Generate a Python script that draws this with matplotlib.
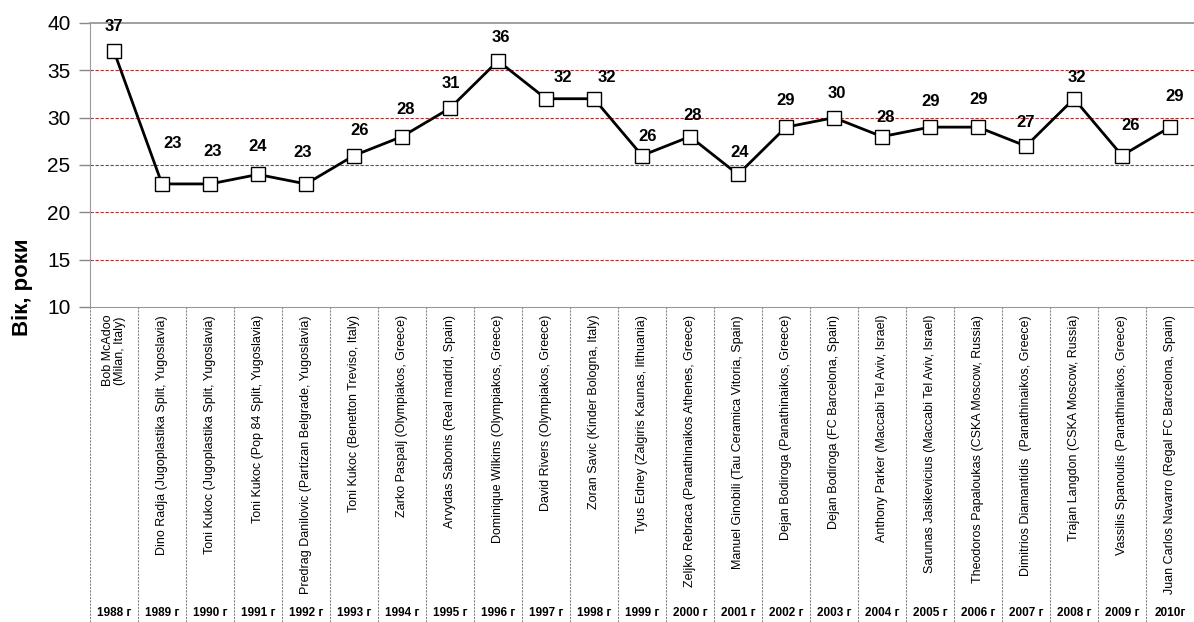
import matplotlib
matplotlib.use("Agg")
import matplotlib.pyplot as plt

plt.rcParams['font.family'] = ['Liberation Sans', 'DejaVu Sans']

years = ["1988 г", "1989 г", "1990 г", "1991 г", "1992 г", "1993 г", "1994 г",
         "1995 г", "1996 г", "1997 г", "1998 г", "1999 г", "2000 г", "2001 г",
         "2002 г", "2003 г", "2004 г", "2005 г", "2006 г", "2007 г", "2008 г",
         "2009 г", "2010г"]
players = [
    "Bob McAdoo\n(Milan, Italy)",
    "Dino Radja (Jugoplastika Split, Yugoslavia)",
    "Toni Kukoc (Jugoplastika Split, Yugoslavia)",
    "Toni Kukoc (Pop 84 Split, Yugoslavia)",
    "Predrag Danilovic (Partizan Belgrade, Yugoslavia)",
    "Toni Kukoc (Benetton Treviso, Italy)",
    "Zarko Paspalj (Olympiakos, Greece)",
    "Arvydas Sabonis (Real madrid, Spain)",
    "Dominique Wilkins (Olympiakos, Greece)",
    "David Rivers (Olympiakos, Greece)",
    "Zoran Savic (Kinder Bologna, Italy)",
    "Tyus Edney (Zalgiris Kaunas, lithuania)",
    "Zeljko Rebraca (Panathinaikos Athenes, Greece)",
    "Manuel Ginobili (Tau Ceramica Vitoria, Spain)",
    "Dejan Bodiroga (Panathinaikos, Greece)",
    "Dejan Bodiroga (FC Barcelona, Spain)",
    "Anthony Parker (Maccabi Tel Aviv, Israel)",
    "Sarunas Jasikevicius (Maccabi Tel Aviv, Israel)",
    "Theodoros Papaloukas (CSKA Moscow, Russia)",
    "Dimitrios Diamantidis  (Panathinaikos, Greece)",
    "Trajan Langdon (CSKA Moscow, Russia)",
    "Vassilis Spanoulis (Panathinaikos, Greece)",
    "Juan Carlos Navarro (Regal FC Barcelona, Spain)",
]
ages = [37, 23, 23, 24, 23, 26, 28, 31, 36, 32, 32, 26, 28, 24, 29, 30, 28,
        29, 29, 27, 32, 26, 29]

# label offsets in pixels (style only)
label_dx = [0, 11, 3, 0, -3, 6, 4, 1, 3, 17, 13, 6, 3, 2, 0, 3, 4, 1, 1, 0, 3, 9, 5]
label_dy = [25, 40, 32, 28, 31, 25, 27, 25, 23, 21, 21, 19, 21, 22, 27, 24, 19,
            26, 28, 24, 21, 30, 31]

W, H = 1194, 622
fig = plt.figure(figsize=(W / 100, H / 100), dpi=100)

left, right = 90, 1194
top, bottom = 23, 307
ax = fig.add_axes([left / W, (H - bottom) / H, (right - left) / W, (bottom - top) / H])
axc = fig.add_axes([left / W, 0, (right - left) / W, (H - bottom) / H])

n = len(ages)
x = list(range(n))
ax.set_xlim(-0.5, n - 0.5)
axc.set_xlim(-0.5, n - 0.5)
ax.set_ylim(10, 40)
axc.set_ylim(0, 1)

for yv in [15, 20, 25, 30, 35]:
    ax.axhline(yv, color='#b03030', lw=0.8, ls=(0, (3, 1.5)), zorder=1)

ax.plot(x, ages, color='black', lw=2.0, marker='s', markersize=10,
        markerfacecolor='white', markeredgecolor='black', markeredgewidth=1.0,
        zorder=3, clip_on=False)

for i, v in enumerate(ages):
    ax.annotate(str(v), (i, v), xytext=(label_dx[i] * 0.72, label_dy[i] * 0.72),
                textcoords='offset points', ha='center', va='center',
                fontsize=12, fontweight='bold', annotation_clip=False)

ax.set_yticks([10, 15, 20, 25, 30, 35, 40])
ax.set_yticklabels(['10', '15', '20', '25', '30', '35', '40'], fontsize=15)
ax.tick_params(axis='y', length=8, width=1, color='#888888', pad=6)
ax.set_xticks([])
ax.spines['right'].set_visible(False)
ax.spines['top'].set_color('#999999')
ax.spines['top'].set_linewidth(1.3)
ax.spines['left'].set_color('#999999')
ax.spines['left'].set_linestyle((0, (2, 1)))
ax.spines['bottom'].set_color('#999999')
ax.spines['bottom'].set_linestyle((0, (2, 1)))

# category area
for sp in axc.spines.values():
    sp.set_visible(False)
axc.set_xticks([])
axc.set_yticks([])
axc.patch.set_alpha(0)
for b in range(n):
    axc.axvline(b - 0.5, color='#888888', lw=0.8, ls=(0, (2, 1)))

ch = H - bottom
for i, p in enumerate(players):
    axc.text(i, 1 - 8 / ch, p, rotation=90, ha='center', va='top',
             multialignment='center', fontsize=9, linespacing=1.05)
    axc.text(i, 9 / ch, years[i], ha='center', va='center', fontsize=8.5,
             fontweight='bold')

fig.text(22 / W, 1 - 287 / H, 'Вік, роки', rotation=90, ha='center', va='center',
         fontsize=16, fontweight='bold')

fig.savefig('out.png', dpi=100)
